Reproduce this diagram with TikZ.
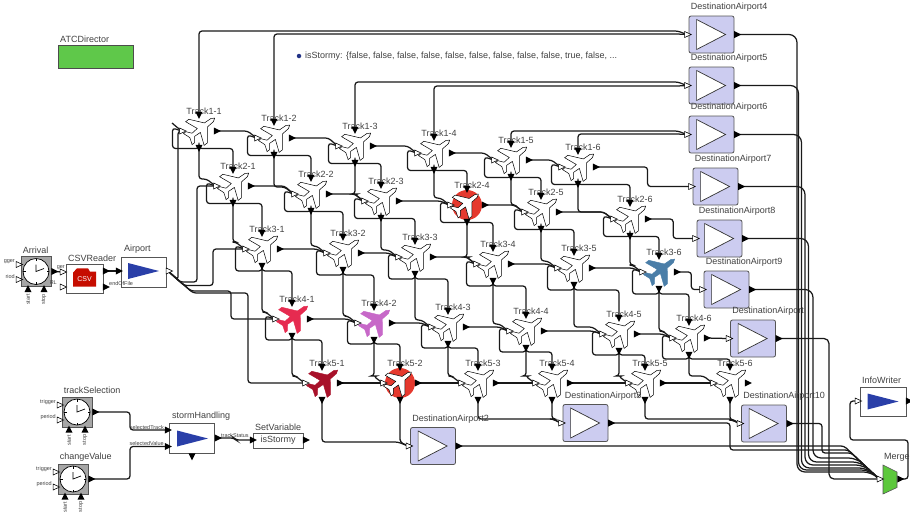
\documentclass[tikz,border=0pt]{standalone}
\usepackage{fontspec}
\setmainfont{Liberation Sans}
\usetikzlibrary{calc,shapes.geometric,backgrounds}
\definecolor{lblgray}{HTML}{404040}
\definecolor{edgegray}{HTML}{555555}
\definecolor{dafill}{HTML}{CCCCF0}
\definecolor{tribl}{HTML}{2A3FA8}
\definecolor{haloRed}{HTML}{E5392E}
\definecolor{planeRed}{HTML}{E62B50}
\definecolor{planeOrchid}{HTML}{C768C8}
\definecolor{planeDark}{HTML}{A8112A}
\definecolor{planeBlue}{HTML}{4A7EA8}
\definecolor{atcgreen}{HTML}{5FC84A}
\definecolor{mergegreen}{HTML}{5CC83C}
\tikzset{
  lbl/.style={font=\fontsize{9}{10}\selectfont,text=lblgray,inner sep=0pt,anchor=west},
  tny/.style={font=\fontsize{5.5}{6}\selectfont,text=lblgray,inner sep=0pt},
  wire/.style={line width=1.25pt,rounded corners=3pt,draw=black!90},
  inp/.style={draw=black,fill=white,line width=.6pt,isosceles triangle,isosceles triangle stretches,minimum width=6pt,minimum height=6.5pt,inner sep=0pt},
  outr/.style={fill=black,isosceles triangle,isosceles triangle stretches,minimum width=7pt,minimum height=7pt,inner sep=0pt},
  outd/.style={outr,shape border rotate=-90},
  outu/.style={outr,shape border rotate=90},
  dabox/.style={draw=edgegray,fill=dafill,line width=.8pt,rounded corners=2pt,minimum width=45pt,minimum height=37pt,inner sep=0pt},
  datri/.style={draw=black!80,fill=white,line width=.7pt,isosceles triangle,isosceles triangle stretches,minimum width=30pt,minimum height=29pt,inner sep=0pt,outer sep=0pt,anchor=lower side},
  bluetri/.style={fill=tribl,isosceles triangle,isosceles triangle stretches,minimum width=16pt,minimum height=31pt,inner sep=0pt,outer sep=0pt,anchor=lower side},
  actbox/.style={draw=edgegray,fill=white,line width=.7pt,inner sep=0pt},
  clkbox/.style={draw=edgegray,fill=black!35,line width=.7pt,minimum size=30pt,inner sep=0pt},
  halo/.style={circle,fill=haloRed,minimum size=30pt,inner sep=0pt},
  planewhite/.style={draw=black,fill=white,line width=.5pt,rotate=38},
  planefill/.style={draw=#1,fill=#1,line width=.4pt,rotate=38},
  planeshape/.pic={
    \path[pic actions] (16,0) -- (13,2) -- (5,2.5) -- (-5,15) -- (-9,15) -- (-4,2.5) -- (-11,2) -- (-15,7) -- (-18,7) -- (-15.5,0)
      -- (-18,-7) -- (-15,-7) -- (-11,-2) -- (-4,-2.5) -- (-9,-15) -- (-5,-15) -- (5,-2.5) -- (13,-2) -- cycle;
  },
  clockface/.pic={
    \draw[black,fill=white,line width=.7pt] (0,0) circle (13);
    \foreach \ang in {0,90,180,270}{\draw[black,line width=.5pt] (\ang:13) -- (\ang:10.5);}
    \draw[black,line width=.7pt] (0,-7) -- (0,0) -- (8,-3);
  },
}
\begin{document}
\begin{tikzpicture}[x=1pt,y=-1pt]
 \useasboundingbox (0,0) rectangle (910,515);
 % director and plot text
 \node[draw=black!70,fill=atcgreen,minimum width=75pt,minimum height=23pt,inner sep=0pt] (atc) at (95.5,56.5){};
 \node[lbl] (atclab) at (60,39){ATCDirector};
 \node[circle,fill=tribl!80!black,minimum size=4.5pt,inner sep=0pt] (stormdot) at (299,56){};
 \node[lbl] (stormtxt) at (305,56){isStormy: \{false, false, false, false, false, false, false, false, false, true, false, ...};
 % tracks
 \foreach \rw/\cl/\px/\py in {1/1/199/131,1/2/274/138,1/3/355/146,1/4/434/153,1/5/511/160,1/6/578/167,
   2/1/233/186,2/2/311/194,2/3/381/201,2/4/467/205,2/5/541/212,2/6/630/219,
   3/1/262/249,3/2/343/253,3/3/415/257,3/4/493/264,3/5/574/268,3/6/659/272,
   4/1/292/319,4/2/374/323,4/3/448/327,4/4/526/331,4/5/619/334,4/6/689/338,
   5/1/322/383,5/2/400/383,5/3/478/383,5/4/552/383,5/5/645/383,5/6/730/383}{
  \coordinate (trk\rw\cl) at (\px,\py);
 }
 \foreach \id in {11,12,13,14,15,16,21,22,23,25,26,31,32,33,34,35,43,44,45,46,53,54,55,56}{
  \pic[planewhite] at ($(trk\id)+(3,-3)$) {planeshape};
 }
 \foreach \id/\pfill in {41/planeRed,42/planeOrchid,51/planeDark,36/planeBlue}{
  \pic[planefill=\pfill] at ($(trk\id)+(3,-3)$) {planeshape};
 }
 \foreach \id in {24,52}{
  \node[halo] (halo\id) at (trk\id){};
  \pic[planewhite,scale=.9] at ($(trk\id)+(0,-2)$) {planeshape};
 }
 \foreach \rw in {1,...,5}{
  \foreach \cl in {1,...,6}{
   \node[lbl,anchor=center] (trk\rw\cl lab) at ($(trk\rw\cl)+(5,-20)$){Track\rw-\cl};
   \node[outd] (trk\rw\cl n) at ($(trk\rw\cl)+(0,-17)$){};
   \node[outd] (trk\rw\cl s) at ($(trk\rw\cl)+(0,16)$){};
   \node[outr] (trk\rw\cl e) at ($(trk\rw\cl)+(17,0)$){};
   \node[inp] (trk\rw\cl w) at ($(trk\rw\cl)+(-17.5,0)$){};
  }
 }
 % destination airports
 \foreach \dn/\dx/\dy/\dtxt in {dfour/711.5/34.5/DestinationAirport4,dfive/711.5/85.5/DestinationAirport5,dsix/711.5/134.5/DestinationAirport6,
   dseven/715.5/186.5/DestinationAirport7,deight/719.5/238.5/DestinationAirport8,dnine/726.5/289.5/DestinationAirport9,
   dair/753/338.5/DestinationAirport,dten/764/423.5/DestinationAirport10,dtwo/433/446/DestinationAirport2,dthree/585.5/423/DestinationAirport3}{
  \node[dabox] (\dn) at (\dx,\dy){};
  \node[datri] (\dn tri) at ($(\dn.west)+(8,0)$){};
  \node[lbl] (\dn lab) at ($(\dn.north west)+(2,-8)$){\dtxt};
  \node[inp] (\dn w) at ($(\dn.west)+(-2,0)$){};
  \node[outr] (\dn e) at ($(\dn.east)+(2,0)$){};
 }
 % clocks
 \foreach \cn/\cx/\cy/\ctxt/\trg/\prd in {arrival/36/271.5/Arrival/gger/riod,tracksel/77/412/trackSelection/trigger/period,changeval/73/479/changeValue/trigger/period}{
  \node[clkbox] (\cn) at (\cx,\cy){};
  \pic at (\cn) {clockface};
  \node[lbl] (\cn lab) at ($(\cn.north west)+(2,-6)$){\ctxt};
  \node[inp] (\cn a) at ($(\cn)+(-18,-7)$){};
  \node[inp] (\cn b) at ($(\cn)+(-18,8)$){};
  \node[outu] (\cn c) at ($(\cn)+(-8,18.5)$){};
  \node[outu] (\cn d) at ($(\cn)+(8,18.5)$){};
  \node[outr] (\cn e) at ($(\cn)+(17.5,0)$){};
  \node[tny,anchor=east] (\cn al) at ($(\cn a)+(-3,-2.5)$){\trg};
  \node[tny,anchor=east] (\cn bl) at ($(\cn b)+(-3,-2.5)$){\prd};
  \node[tny,rotate=90,anchor=east] (\cn cl) at ($(\cn c)+(0,4)$){start};
  \node[tny,rotate=90,anchor=east] (\cn dl) at ($(\cn d)+(0,4)$){stop};
 }
 % csv reader
 \node[actbox,minimum width=37pt,minimum height=29pt] (csv) at (84.5,278.5){};
 \fill[red!75!black!90!orange] (73,272.7) -- (77,268.3) -- (88,268.3) -- (90,271.7) -- (96,271.7) -- (96,286.7) -- (73,286.7) -- cycle;
 \node[font=\fontsize{7}{8}\selectfont,text=white,inner sep=0pt] (csvtxt) at (84.5,279){CSV};
 \node[lbl] (csvlab) at (68,258){CSVReader};
 \node[inp] (csva) at (62,272){};
 \node[inp] (csvb) at (62,287){};
 \node[outr] (csvc) at (105,271){};
 \node[outr] (csvd) at (105,287){};
 \node[tny,anchor=east] (csval) at (65,268){ger};
 \node[tny,anchor=east] (csvbl) at (57,283){RL};
 % airport
 \node[actbox,minimum width=45pt,minimum height=30pt] (airport) at (143.5,272){};
 \node[bluetri] (airtri) at (128,271){};
 \node[lbl] (airlab) at (124,249){Airport};
 \node[outr] (airw) at (118,271){};
 \node[inp] (aire) at (168,271){};
 \node[tny,anchor=west] (eof) at (109,284){endOfFile};
 % storm handling
 \node[actbox,minimum width=45pt,minimum height=30pt] (storm) at (191.5,438){};
 \node[bluetri] (stormtri) at (177,438.5){};
 \node[lbl] (stormlab) at (172,416){stormHandling};
 \node[outr] (storma) at (167,430){};
 \node[outr] (stormb) at (167,446.5){};
 \node[outd] (stormc) at (192,455.5){};
 \node[outr] (storme) at (217,438){};
 \node[tny,anchor=east] (stormal) at (164,428){selectedTrack};
 \node[tny,anchor=east] (stormbl) at (164,443.5){selectedValue};
 \node[tny,anchor=west] (stormel) at (221,436){trackStatus};
 % set variable
 \node[actbox,minimum width=50pt,minimum height=15pt,font=\fontsize{9}{10}\selectfont,text=lblgray] (setvar) at (278,440.5){isStormy};
 \node[lbl] (setlab) at (255,427){SetVariable};
 \node[outr] (seta) at (252,440){};
 \node[outr] (sete) at (305,440){};
 % info writer and merge
 \node[actbox,minimum width=46pt,minimum height=29pt] (info) at (883,401.5){};
 \node[bluetri] (infotri) at (867.5,401.5){};
 \node[lbl] (infolab) at (862,380){InfoWriter};
 \node[inp] (infow) at (857,401){};
 \node[outr] (infoe) at (908,401){};
 \coordinate (merge) at (890,479.5);
 \draw[draw=edgegray,fill=mergegreen,line width=.6pt] ($(merge)+(-7,-14.5)$) -- ($(merge)+(7,-7.5)$) -- ($(merge)+(7,8)$) -- ($(merge)+(-7,14.5)$) -- cycle;
 \node[lbl] (mergelab) at (884,457){Merge};
 \node[inp] (mergew) at (879,479){};
 \node[outr] (mergee) at (899.5,479){};
 \begin{scope}[on background layer]
  % grid connections
  \foreach \rw/\nx/\kk in {1/2/1.5,2/3/1.5,3/4/6,4/5/5}{
   \foreach \cl in {1,...,6}{
    \draw[wire] (trk\rw\cl s.center) -- ++(0,\kk) -| (trk\nx\cl n.center);
    \draw[wire] (trk\rw\cl s.center) -- ++(0,\kk) -| ($(trk\rw\cl w)+(-9,-3)$) -- (trk\rw\cl w.center);
    \draw[wire] (trk\rw\cl s.center) |- ($(trk\nx\cl w)+(-9,-7)$) -- (trk\nx\cl w.center);
   }
  }
  \foreach \rw in {1,...,5}{
   \foreach \cl/\nc in {1/2,2/3,3/4,4/5,5/6}{
    \draw[wire] (trk\rw\cl e.center) -- ($(trk\rw\cl e.center -| trk\rw\nc w.center)+(-9,0)$) -- (trk\rw\nc w.center);
   }
  }
  \coordinate (stub) at (172,123);
  \draw[wire] (stub) -- (trk11w.center);
  % upper row to the first airports
  \foreach \id/\lev/\dst in {11/31/dfour,12/34/dfour,13/82/dfive,14/86/dfive,15/131/dsix,16/134/dsix}{
   \draw[wire] (trk\id n.center) |- (678,\lev) -- (\dst w.center);
  }
  \draw[wire] (trk16e.center) -| ($(trk16e)!.55!(dsevenw)$) |- (dsevenw.center);
  \draw[wire] (trk26e.center) -| ($(trk26e)!.55!(deightw)$) |- (deightw.center);
  \draw[wire] (trk36e.center) -| ($(trk36e)!.6!(dninew)$) |- (dninew.center);
  \draw[wire] (trk46e.center) -- (dairw.center);
  % lower row to the airports
  \draw[wire] (trk51s.center) |- (398,442) -- (dtwow.center);
  \draw[wire] (trk52s.center) |- (400,442) -- (dtwow.center);
  \draw[wire] (trk53s.center) |- (553,419) -- (dthreew.center);
  \draw[wire] (trk54s.center) |- (553,419) -- (dthreew.center);
  \draw[wire] (trk55s.center) |- (732,419) -- (dtenw.center);
  \draw[wire] (trk56s.center) |- (732,420) -- (dtenw.center);
  % airport fan out
  \draw[wire] (aire.center) -- (178,280) -- (178,131) -- (trk11w.center);
  \draw[wire] (aire.center) -- (180,282) -- (197,282) -- (197,186) -- (trk21w.center);
  \draw[wire] (aire.center) -- (184,285.5) -- (213,285.5) -- (213,249) -- (trk31w.center);
  \draw[wire] (aire.center) -- (191,291) -- (231,291) -- (231,319) -- (trk41w.center);
  \draw[wire] (aire.center) -- (193,293) -- (248,293) -- (248,383) -- (trk51w.center);
  % bus to merge
  \foreach \dst/\vx/\hy/\bx in {dfour/797/472/871.6,dfive/798.5/470/869.5,dsix/801.5/468/867.3,dseven/805/465/864,deight/808.5/462/861,dnine/813/458/856.7}{
   \draw[wire,rounded corners=8pt] (\dst e.center) -| (\vx,\hy) -- (\bx,\hy) -- (mergew.center);
  }
  \draw[wire,rounded corners=5pt] (daire.center) -| (829,479) -- (mergew.center);
  \draw[wire] (dtene.center) -| (822,453) -- (851.4,453) -- (mergew.center);
  \draw[wire] (dthreee.center) -| (730,450) -- (848.2,450) -- (mergew.center);
  \draw[wire] (dtwoe.center) -- (844,446) -- (mergew.center);
  \draw[wire] (mergee.center) -- (908,479) |- (850,440) |- (infow.center);
  % left part
  \draw[wire] (arrivale.center) -- (csva.center);
  \draw[wire] (csvc.center) -- (airw.center);
  \draw[wire] (tracksele.center) -| (130,430) -- (storma.center);
  \draw[wire] (changevale.center) -| (130,446.5) -- (stormb.center);
  \draw[wire] (storme.center) -- (234,438) -- (236,440) -- (seta.center);
 \end{scope}
\end{tikzpicture}
\end{document}
